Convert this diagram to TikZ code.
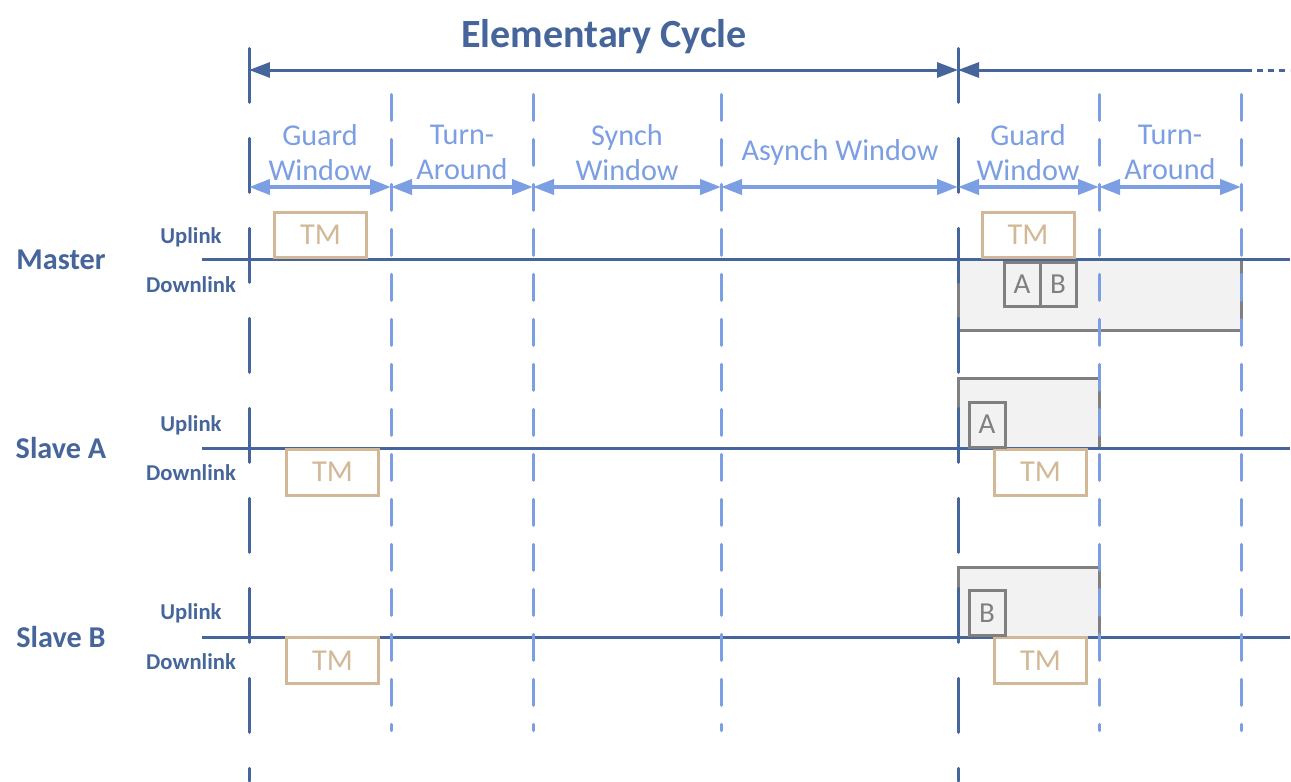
\documentclass[tikz,border=0pt]{standalone}
\usepackage{fontspec}
\setmainfont{Carlito}
\usetikzlibrary{arrows.meta}
\definecolor{darkbl}{RGB}{70,101,154}
\definecolor{lightbl}{RGB}{124,158,227}
\definecolor{tanbr}{RGB}{210,184,150}
\definecolor{grayb}{RGB}{128,128,128}
\definecolor{grayf}{RGB}{242,242,242}

\begin{document}
\begin{tikzpicture}[x=0.02cm, y=-0.02cm, lane/.style={font=\fontsize{17.2}{20}\selectfont\bfseries, text=darkbl}, link/.style={font=\fontsize{12.9}{15}\selectfont\bfseries, text=darkbl}, win/.style={align=center, font=\fontsize{17.2}{19.8}\selectfont, text=lightbl}, tmbox/.style={draw=tanbr, line width=0.06cm, minimum width=1.84cm, minimum height=0.92cm, inner sep=0pt, text=tanbr, font=\fontsize{17.3}{20}\selectfont}, slot/.style={draw=grayb, line width=0.06cm, minimum width=0.72cm, minimum height=0.9cm, inner sep=0pt, text=grayb, font=\fontsize{16.5}{20}\selectfont}, gfill/.style={draw=grayb, fill=grayf, line width=0.06cm}, tline/.style={darkbl, line width=0.06cm}, cyc/.style={darkbl, line width=0.06cm, dash pattern=on 1.08cm off 0.72cm, line cap=round}, sub/.style={lightbl, line width=0.06cm, dash pattern=on 0.52cm off 0.38cm, line cap=round}, wtip/.tip={Triangle[length=0.42cm, width=0.3cm]}, warr/.style={wtip-wtip, lightbl, line width=0.08cm}, carr/.style={darkbl, line width=0.06cm}, ctip/.tip={Triangle[length=0.42cm, width=0.3cm]}]
\useasboundingbox (0,0) rectangle (1291,781);
% async slots of the next cycle
\draw[gfill] (958,259) rectangle (1241,330); \draw[gfill] (958,378) rectangle (1099,448); \draw[gfill] (958,567) rectangle (1099,637);
% time lines
\draw[tline] (202,259) -- (1290,259); \draw[tline] (202,448) -- (1290,448); \draw[tline] (202,637) -- (1290,637);
% cycle and window borders
\foreach \x in {249,958} \draw[cyc] (\x,48.5) -- (\x,781);
\foreach \x in {391,533,721,1099,1241} \draw[sub] (\x,94.5) -- (\x,730.5);
\coordinate (c0) at (249,70); \coordinate (c1) at (958,70); \coordinate (c2) at (1246,70); \coordinate (c3) at (1290,70);
\draw[carr, ctip-ctip] (c0) -- (c1); \draw[carr, ctip-] (c1) -- (c2); \draw[carr, dash pattern=on 0.12cm off 0.1cm] (c2) -- (c3);
\node[font=\fontsize{22.8}{26}\selectfont\bfseries, text=darkbl] (title) at (604,37) {Elementary Cycle};
\foreach \n/\x in {0/249,1/391,2/533,3/721,4/958,5/1099,6/1241} \coordinate (m\n) at (\x,187);
\foreach \a/\b in {m0/m1,m1/m2,m2/m3,m3/m4,m4/m5,m5/m6} \draw[warr] (\a) -- (\b);
\node[win] (guard1) at (320,152.5) {Guard\\Window}; \node[win] (turn1) at (462,152.5) {Turn-\\Around}; \node[win] (synch) at (627,152.5) {Synch\\Window}; \node[win] (asynch) at (840,152) {Asynch Window}; \node[win] (guard2) at (1028,152.5) {Guard\\Window}; \node[win] (turn2) at (1170,152.5) {Turn-\\Around};
% stations
\node[lane] (master) at (61,260) {Master}; \node[lane] (slaveA) at (61,448) {Slave A}; \node[lane] (slaveB) at (61,637) {Slave B};
\node[link] (upM) at (191,237) {Uplink}; \node[link] (downM) at (191,285) {Downlink}; \node[link] (upA) at (191,425) {Uplink}; \node[link] (downA) at (191,473) {Downlink}; \node[link] (upB) at (191,613) {Uplink}; \node[link] (downB) at (191,662) {Downlink};
% trigger messages
\node[tmbox] (tmM1) at (320.5,235) {TM}; \node[tmbox] (tmM2) at (1028,235) {TM}; \node[tmbox] (tmA1) at (332.5,472) {TM}; \node[tmbox] (tmA2) at (1040.5,472) {TM}; \node[tmbox] (tmB1) at (332.5,660.5) {TM}; \node[tmbox] (tmB2) at (1040.5,660.5) {TM};
\node[slot] (slotMA) at (1022,284.5) {A}; \node[slot] (slotMB) at (1058,284.5) {B}; \node[slot] (slotA) at (987,424.5) {A}; \node[slot] (slotB) at (987,613) {B};
\end{tikzpicture}
\end{document}
